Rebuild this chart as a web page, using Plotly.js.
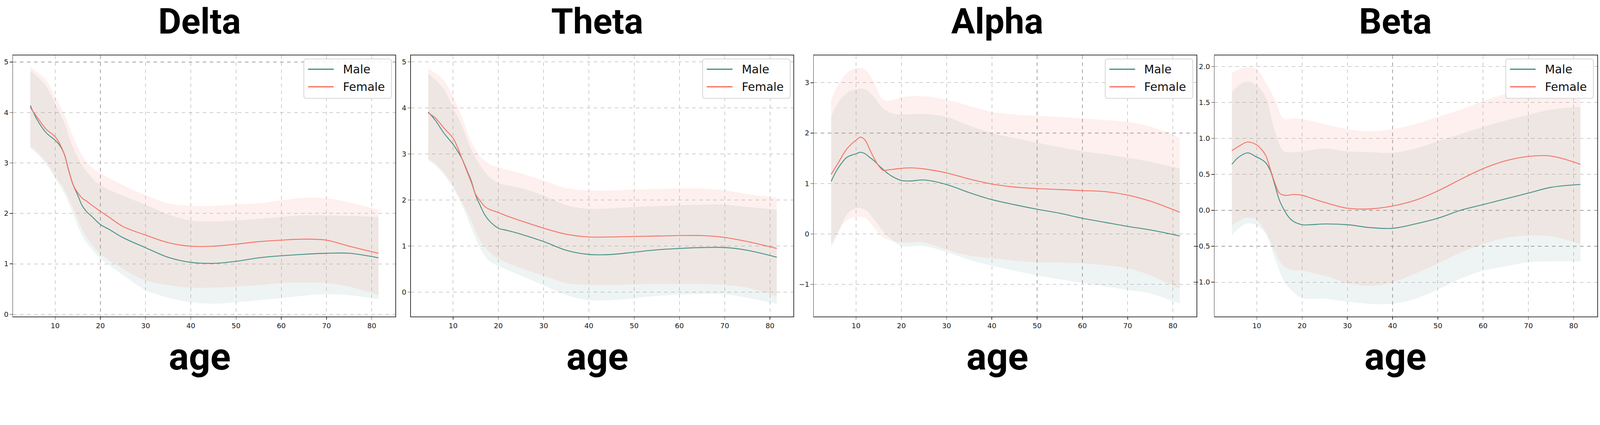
<!DOCTYPE html>
<html>
<head>
<meta charset="utf-8">
<script src="https://cdn.plot.ly/plotly-3.0.1.min.js"></script>
<style>html,body{margin:0;padding:0;background:#fff;overflow:hidden;}</style>
</head>
<body>
<div id="chart"></div>
<script>
// ---------- data ----------
const bandNames = ["Delta", "Theta", "Alpha", "Beta"];
const ageLine = [4.5, 6, 8, 10, 11, 12, 13, 14, 15, 16, 17, 18, 20, 22, 25, 30, 35, 40, 45, 50, 55, 60, 65, 70, 75, 81.5];
const ageBand = [4.5, 6, 8, 10, 12, 14, 16, 18, 20, 25, 30, 35, 40, 45, 50, 55, 60, 65, 70, 75, 81.5];
const xTicks = [10, 20, 30, 40, 50, 60, 70, 80];

// Delta
const deltaMale   = [4.14, 3.86, 3.60, 3.45, 3.35, 3.18, 2.85, 2.56, 2.36, 2.15, 2.03, 1.95, 1.78, 1.68, 1.52, 1.32, 1.13, 1.03, 1.01, 1.05, 1.12, 1.16, 1.19, 1.21, 1.21, 1.12];
const deltaFemale = [4.10, 3.91, 3.67, 3.52, 3.38, 3.18, 2.85, 2.56, 2.41, 2.30, 2.24, 2.17, 2.04, 1.92, 1.74, 1.57, 1.42, 1.35, 1.35, 1.39, 1.44, 1.47, 1.49, 1.47, 1.35, 1.21];
const deltaFemaleUp = [4.90, 4.80, 4.64, 4.32, 3.96, 3.52, 3.14, 2.92, 2.80, 2.56, 2.36, 2.20, 2.15, 2.15, 2.18, 2.20, 2.26, 2.31, 2.30, 2.22, 2.07];
const deltaMaleUp   = [4.82, 4.72, 4.52, 4.18, 3.80, 3.30, 2.95, 2.72, 2.56, 2.35, 2.17, 1.98, 1.86, 1.84, 1.86, 1.89, 1.93, 1.96, 1.96, 1.95, 1.93];
const deltaFemaleLo = [3.33, 3.22, 3.02, 2.75, 2.48, 2.10, 1.68, 1.40, 1.20, 0.90, 0.67, 0.58, 0.53, 0.53, 0.55, 0.58, 0.62, 0.63, 0.62, 0.55, 0.38];
const deltaMaleLo   = [3.30, 3.18, 2.98, 2.70, 2.40, 1.98, 1.55, 1.30, 1.11, 0.78, 0.48, 0.33, 0.24, 0.21, 0.24, 0.28, 0.32, 0.37, 0.40, 0.38, 0.30];
const deltaTicks = [0, 1, 2, 3, 4, 5];

// Theta
const thetaMale   = [3.91, 3.74, 3.45, 3.21, 3.06, 2.89, 2.66, 2.42, 2.10, 1.88, 1.68, 1.55, 1.39, 1.34, 1.26, 1.10, 0.91, 0.82, 0.82, 0.87, 0.92, 0.95, 0.97, 0.97, 0.91, 0.76];
const thetaFemale = [3.89, 3.79, 3.56, 3.34, 3.14, 2.89, 2.64, 2.39, 2.12, 1.98, 1.86, 1.80, 1.73, 1.65, 1.55, 1.39, 1.26, 1.20, 1.20, 1.21, 1.22, 1.23, 1.23, 1.19, 1.10, 0.95];
const thetaFemaleUp = [4.85, 4.76, 4.59, 4.24, 3.79, 3.26, 2.95, 2.78, 2.71, 2.58, 2.42, 2.26, 2.21, 2.21, 2.23, 2.24, 2.25, 2.25, 2.21, 2.13, 2.05];
const thetaMaleUp   = [4.74, 4.62, 4.40, 4.00, 3.60, 3.10, 2.75, 2.50, 2.37, 2.26, 2.10, 1.89, 1.81, 1.82, 1.85, 1.87, 1.89, 1.90, 1.90, 1.85, 1.79];
const thetaFemaleLo = [2.89, 2.80, 2.60, 2.31, 1.95, 1.55, 1.12, 0.88, 0.73, 0.52, 0.36, 0.20, 0.16, 0.16, 0.17, 0.18, 0.18, 0.18, 0.16, 0.10, -0.09];
const thetaMaleLo   = [2.87, 2.76, 2.55, 2.26, 1.88, 1.40, 0.95, 0.68, 0.57, 0.36, 0.15, -0.06, -0.17, -0.17, -0.13, -0.08, -0.05, -0.04, -0.04, -0.12, -0.25];
const thetaTicks = [0, 1, 2, 3, 4, 5];

// Alpha
const alphaMale   = [1.04, 1.30, 1.52, 1.59, 1.62, 1.59, 1.52, 1.45, 1.36, 1.28, 1.20, 1.14, 1.06, 1.05, 1.07, 0.98, 0.82, 0.68, 0.58, 0.49, 0.41, 0.31, 0.23, 0.15, 0.08, -0.04];
const alphaFemale = [1.18, 1.40, 1.69, 1.86, 1.92, 1.86, 1.68, 1.50, 1.35, 1.26, 1.27, 1.28, 1.30, 1.31, 1.29, 1.21, 1.09, 0.99, 0.93, 0.90, 0.88, 0.86, 0.84, 0.77, 0.65, 0.43];
const alphaFemaleUp = [2.66, 2.95, 3.19, 3.29, 3.26, 3.00, 2.66, 2.65, 2.71, 2.73, 2.66, 2.54, 2.42, 2.37, 2.34, 2.32, 2.29, 2.26, 2.22, 2.13, 1.91];
const alphaMaleUp   = [2.32, 2.60, 2.80, 2.87, 2.87, 2.71, 2.49, 2.39, 2.37, 2.38, 2.32, 2.15, 2.00, 1.90, 1.81, 1.72, 1.64, 1.58, 1.51, 1.43, 1.30];
const alphaFemaleLo = [-0.19, 0.05, 0.27, 0.34, 0.32, 0.12, -0.07, -0.14, -0.17, -0.17, -0.31, -0.43, -0.48, -0.53, -0.56, -0.57, -0.58, -0.62, -0.68, -0.82, -1.09];
const alphaMaleLo   = [-0.27, 0.00, 0.39, 0.51, 0.48, 0.29, 0.05, -0.12, -0.24, -0.24, -0.36, -0.51, -0.63, -0.73, -0.82, -0.90, -0.97, -1.04, -1.11, -1.18, -1.38];
const alphaTicks = [-1, 0, 1, 2, 3];

// Beta
const betaMale   = [0.64, 0.74, 0.80, 0.74, 0.71, 0.66, 0.55, 0.35, 0.14, 0.01, -0.09, -0.15, -0.20, -0.20, -0.19, -0.20, -0.24, -0.25, -0.19, -0.11, 0.00, 0.08, 0.16, 0.24, 0.32, 0.36];
const betaFemale = [0.83, 0.89, 0.95, 0.91, 0.85, 0.76, 0.57, 0.38, 0.24, 0.21, 0.21, 0.22, 0.21, 0.17, 0.11, 0.03, 0.02, 0.06, 0.14, 0.27, 0.43, 0.58, 0.69, 0.75, 0.755, 0.64];
const betaFemaleUp = [1.91, 1.96, 1.99, 1.96, 1.78, 1.54, 1.27, 1.28, 1.27, 1.20, 1.13, 1.10, 1.13, 1.20, 1.30, 1.40, 1.52, 1.62, 1.69, 1.72, 1.72];
const betaMaleUp   = [1.64, 1.74, 1.79, 1.74, 1.57, 1.10, 0.82, 0.81, 0.82, 0.86, 0.82, 0.81, 0.80, 0.86, 0.96, 1.06, 1.16, 1.25, 1.33, 1.40, 1.44];
const betaFemaleLo = [-0.21, -0.15, -0.10, -0.13, -0.30, -0.57, -0.78, -0.83, -0.84, -0.91, -1.01, -1.05, -1.00, -0.88, -0.74, -0.59, -0.47, -0.38, -0.35, -0.36, -0.47];
const betaMaleLo   = [-0.35, -0.25, -0.18, -0.21, -0.33, -0.67, -0.98, -1.13, -1.22, -1.23, -1.27, -1.30, -1.30, -1.23, -1.10, -0.95, -0.84, -0.78, -0.72, -0.71, -0.71];
const betaTicks = [-1.0, -0.5, 0.0, 0.5, 1.0, 1.5, 2.0];

const seriesNames = ["Male", "Female"];
const xTitle = "age";

// ---------- presentation ----------
const W0 = 4550, H0 = 1089;
const vw = window.innerWidth || W0, vh = window.innerHeight || H0;
const s = Math.min(vw / W0, vh / H0);      // scale factor if the viewport differs from 4550x1089
const W = W0 * s, H = H0 * s;
const px = v => v * s;

const MALE = "rgb(74,148,138)", FEMALE = "rgb(245,116,102)";
const MALE_FILL = "rgba(76,150,140,0.10)", FEMALE_FILL = "rgba(250,128,114,0.12)";
const TITLE_FONT = "Roboto, 'Noto Sans CJK SC', sans-serif";

const panels = [
  {name: bandNames[0], m: deltaMale, f: deltaFemale, mu: deltaMaleUp, ml: deltaMaleLo, fu: deltaFemaleUp, fl: deltaFemaleLo,
   box: [37, 1124], yr: [-0.042, 5.13], ticks: deltaTicks, fmt: "d", cx: 568, leg: 864},
  {name: bandNames[1], m: thetaMale, f: thetaFemale, mu: thetaMaleUp, ml: thetaMaleLo, fu: thetaFemaleUp, fl: thetaFemaleLo,
   box: [1168.5, 2256.5], yr: [-0.525, 5.137], ticks: thetaTicks, fmt: "d", cx: 1699, leg: 1998},
  {name: bandNames[2], m: alphaMale, f: alphaFemale, mu: alphaMaleUp, ml: alphaMaleLo, fu: alphaFemaleUp, fl: alphaFemaleLo,
   box: [2314.4, 3402.5], yr: [-1.636, 3.539], ticks: alphaTicks, fmt: "d", cx: 2836, leg: 3143},
  {name: bandNames[3], m: betaMale, f: betaFemale, mu: betaMaleUp, ml: betaMaleLo, fu: betaFemaleUp, fl: betaFemaleLo,
   box: [3454, 4542], yr: [-1.476, 2.154], ticks: betaTicks, fmt: ".1f", cx: 3968, leg: 4282}
];

const plotTop = 158, plotBot = 901;
const fx = v => v / W0, fy = v => 1 - v / H0;   // reference pixel -> paper fraction

const traces = [];
const layout = {
  width: W, height: H, autosize: false,
  margin: {l: 0, r: 0, t: 0, b: 0, pad: 0},
  paper_bgcolor: "#fff", plot_bgcolor: "rgba(0,0,0,0)",
  showlegend: false,
  annotations: [], shapes: []
};

function roundedRect(x0, y0, x1, y1, r) {
  const X = fx, Y = fy;
  return "M" + X(x0 + r) + "," + Y(y0) +
    " L" + X(x1 - r) + "," + Y(y0) + " Q" + X(x1) + "," + Y(y0) + " " + X(x1) + "," + Y(y0 + r) +
    " L" + X(x1) + "," + Y(y1 - r) + " Q" + X(x1) + "," + Y(y1) + " " + X(x1 - r) + "," + Y(y1) +
    " L" + X(x0 + r) + "," + Y(y1) + " Q" + X(x0) + "," + Y(y1) + " " + X(x0) + "," + Y(y1 - r) +
    " L" + X(x0) + "," + Y(y0 + r) + " Q" + X(x0) + "," + Y(y0) + " " + X(x0 + r) + "," + Y(y0) + " Z";
}

panels.forEach((p, i) => {
  const k = i === 0 ? "" : String(i + 1);
  const xa = "x" + k, ya = "y" + k;
  // male band (lower, then upper filled down to it)
  traces.push({x: ageBand, y: p.ml, xaxis: xa, yaxis: ya, type: "scatter", mode: "lines",
    line: {width: 0, shape: "spline", color: MALE_FILL}, showlegend: false, hoverinfo: "skip"});
  traces.push({x: ageBand, y: p.mu, xaxis: xa, yaxis: ya, type: "scatter", mode: "lines",
    line: {width: 0, shape: "spline", color: MALE_FILL}, fill: "tonexty", fillcolor: MALE_FILL, showlegend: false, hoverinfo: "skip"});
  // female band
  traces.push({x: ageBand, y: p.fl, xaxis: xa, yaxis: ya, type: "scatter", mode: "lines",
    line: {width: 0, shape: "spline", color: FEMALE_FILL}, showlegend: false, hoverinfo: "skip"});
  traces.push({x: ageBand, y: p.fu, xaxis: xa, yaxis: ya, type: "scatter", mode: "lines",
    line: {width: 0, shape: "spline", color: FEMALE_FILL}, fill: "tonexty", fillcolor: FEMALE_FILL, showlegend: false, hoverinfo: "skip"});
  // mean lines
  traces.push({x: ageLine, y: p.m, xaxis: xa, yaxis: ya, type: "scatter", mode: "lines", name: seriesNames[0],
    line: {width: px(2.6), shape: "spline", color: MALE}});
  traces.push({x: ageLine, y: p.f, xaxis: xa, yaxis: ya, type: "scatter", mode: "lines", name: seriesNames[1],
    line: {width: px(2.6), shape: "spline", color: FEMALE}});

  const axisCommon = {
    showline: true, mirror: true, linecolor: "#3a3a3a", linewidth: px(2),
    ticks: "outside", ticklen: px(7), tickwidth: px(1.5), tickcolor: "#3a3a3a",
    showgrid: true, gridcolor: "#a2a2a2", griddash: "dash", gridwidth: px(1.3),
    zeroline: false, layer: "above traces",
    tickfont: {family: "DejaVu Sans", size: px(20), color: "#1a1a1a"}
  };
  layout["xaxis" + k] = Object.assign({}, axisCommon, {
    domain: [fx(p.box[0]), fx(p.box[1])], anchor: ya, range: [0.68, 85.2],
    tickmode: "array", tickvals: xTicks, ticklabelstandoff: px(4)
  });
  layout["yaxis" + k] = Object.assign({}, axisCommon, {
    domain: [fy(plotBot), fy(plotTop)], anchor: xa, range: p.yr,
    tickmode: "array", tickvals: p.ticks, tickformat: p.fmt, ticklabelstandoff: px(7)
  });

  // legend box (upper right), drawn like the matplotlib legend
  const L = p.leg, R = p.leg + 249, T = 168, B = 280;
  layout.shapes.push({type: "path", xref: "paper", yref: "paper", path: roundedRect(L, T, R, B, 7),
    fillcolor: "rgba(255,255,255,0.85)", line: {color: "#d2d2d2", width: px(2)}, layer: "above"});
  [[seriesNames[0], MALE, 197], [seriesNames[1], FEMALE, 247]].forEach(([nm, col, yy]) => {
    layout.shapes.push({type: "line", xref: "paper", yref: "paper",
      x0: fx(L + 12), x1: fx(L + 85), y0: fy(yy), y1: fy(yy), line: {color: col, width: px(3.6)}, layer: "above"});
    layout.annotations.push({text: nm, xref: "paper", yref: "paper", x: fx(L + 110), y: fy(yy),
      xanchor: "left", yanchor: "middle", showarrow: false, borderpad: 0,
      font: {family: "DejaVu Sans", size: px(33), color: "#111"}});
  });

  // panel title and x-axis title
  layout.annotations.push({
    text: p.name, xref: "paper", yref: "paper", x: fx(p.cx), y: fy(61),
    xanchor: "center", yanchor: "middle", showarrow: false, borderpad: 0,
    font: {family: TITLE_FONT, size: px(101), color: "#000", weight: 700}
  });
  layout.annotations.push({
    text: xTitle, xref: "paper", yref: "paper", x: fx(p.cx), y: fy(1016),
    xanchor: "center", yanchor: "middle", showarrow: false, borderpad: 0,
    font: {family: TITLE_FONT, size: px(107), color: "#000", weight: 700}
  });
});

const el = document.getElementById("chart");
el.style.width = W + "px"; el.style.height = H + "px";
Plotly.newPlot(el, traces, layout, {staticPlot: true, displayModeBar: false});
</script>
</body>
</html>
